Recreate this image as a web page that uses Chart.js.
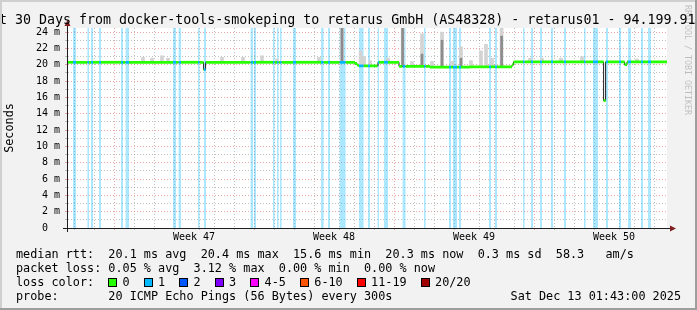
<!DOCTYPE html>
<html>
<head>
<meta charset="utf-8">
<script src="https://cdn.jsdelivr.net/npm/chart.js@4.4.1/dist/chart.umd.min.js"></script>
<style>
    html, body { margin: 0; padding: 0; background: #f2f2f2; }
    canvas { display: block; }
</style>
</head>
<body>
<canvas id="myChart" width="697" height="310"></canvas>
<script>
// x values are days counted from Monday 17 Nov 2025 00:00 (start of week 47)
var X_MIN = -2.85, X_MAX = 27.15, Y_MAX = 24.5;

var weekCenters = [3.5, 10.5, 17.5, 24.5];
var weekLabels = ["Week 47", "Week 48", "Week 49", "Week 50"];
var yTicks = [0, 1, 2, 3, 4, 5, 6, 7, 8, 9, 10, 11, 12, 13, 14, 15, 16, 17, 18, 19, 20, 21, 22, 23, 24];

// periods with 1 lost ping (light blue background bars)
var bandStart = [-2.55, -1.83, -1.65, -1.25, -0.15, 0.08, 2.45, 2.73, 3.70, 4.00, 6.33, 6.50, 7.45, 7.65,
    7.80, 8.45, 9.85, 10.20, 10.78, 11.75, 12.20, 12.68, 13.00, 13.93, 15.00, 16.25, 16.45, 16.75, 18.25,
    18.55, 19.95, 20.35, 20.80, 21.35, 22.00, 23.00, 23.45, 24.10, 24.75, 25.20, 25.85, 26.20];
var bandEnd = [-2.40, -1.75, -1.55, -1.15, -0.05, 0.25, 2.60, 2.85, 3.78, 4.10, 6.45, 6.60, 7.53, 7.73,
    7.88, 8.60, 9.98, 10.30, 11.08, 11.98, 12.30, 12.75, 13.20, 14.08, 15.08, 16.35, 16.65, 16.85, 18.35,
    18.65, 20.03, 20.45, 20.90, 21.45, 22.10, 23.08, 23.70, 24.20, 24.85, 25.35, 25.95, 26.35];

// median rtt (ms), value holds from each x until the next one
var medianX = [-2.85, 3.98, 4.08, 11.55, 11.65, 11.73, 12.70, 13.75, 15.30, 17.30, 19.40, 19.48, 23.98, 24.08, 25.03, 25.15];
var medianY = [20.3, 19.4, 20.3, 20.15, 19.95, 19.85, 20.3, 19.8, 19.7, 19.75, 20.0, 20.35, 15.6, 20.35, 20.0, 20.35];

// smoke: full ping spread (light) and dense part (dark), ms
var smokeX = [0.95, 1.40, 1.90, 2.20, 4.90, 5.95, 6.90, 7.65, 9.75, 10.90, 11.83, 12.00, 12.30, 13.20, 13.93,
    14.40, 14.90, 15.40, 15.90, 16.40, 16.85, 17.35, 17.85, 18.10, 18.40, 18.88, 20.30, 20.90, 21.85, 22.90, 25.65];
var smokeLo = [20.4, 20.4, 20.4, 20.4, 20.4, 20.4, 20.4, 20.4, 20.4, 20.4, 19.9, 19.9, 19.9, 20.4, 19.8,
    19.8, 19.8, 19.8, 19.8, 19.8, 19.8, 19.8, 19.8, 19.8, 19.8, 19.8, 20.4, 20.4, 20.4, 20.4, 20.4];
var smokeHi = [20.9, 20.8, 21.1, 20.8, 20.9, 20.9, 21.1, 20.7, 20.9, 24.5, 21.7, 21.0, 20.5, 20.8, 24.5,
    20.4, 23.8, 20.4, 24.0, 20.4, 22.2, 20.5, 21.7, 22.5, 20.8, 24.5, 20.8, 20.8, 20.8, 21.0, 20.7];
var coreX = [10.90, 13.93, 14.90, 15.90, 16.85, 18.88];
var coreLo = [20.4, 19.8, 19.8, 19.8, 19.8, 19.8];
var coreHi = [24.5, 24.5, 21.3, 23.0, 20.8, 23.5];

var lossLabels = ["0", "1", "2", "3", "4-5", "6-10", "11-19", "20/20"];
var lossColors = ["#26ff00", "#00b8ff", "#0059ff", "#7e00ff", "#ff00ff", "#ff5500", "#ff0000", "#a10000"];

var titleText = "Last 30 Days from docker-tools-smokeping to retarus GmbH (AS48328) - retarus01 - 94.199.91.";
var rttLine = "median rtt:  20.1 ms avg  20.4 ms max  15.6 ms min  20.3 ms now  0.3 ms sd  58.3   am/s";
var lossLine = "packet loss: 0.05 % avg  3.12 % max  0.00 % min  0.00 % now";
var probeLine = "probe:       20 ICMP Echo Pings (56 Bytes) every 300s";
var dateText = "Sat Dec 13 01:43:00 2025";

var MONO = '"DejaVu Sans Mono", monospace';
var GREEN = "#26ff00", BLUE = "#00b8ff";
var GRID_MAJOR = "rgba(222, 79, 79, 0.5)", GRID_MINOR = "rgba(143, 143, 143, 0.55)";
var AXIS = "#1f1f1f", ARROW = "#801f1f";
var NONE = "rgba(0,0,0,0)";
var HALF = 0.17; // half thickness of the median band

// median as steps, split where the loss bars start and stop
function medianAt(x) {
    var v = medianY[0];
    for (var i = 0; i < medianX.length; i++) if (medianX[i] <= x) v = medianY[i];
    return v;
}
function lossAt(x) {
    for (var j = 0; j < bandStart.length; j++) if (x >= bandStart[j] && x < bandEnd[j]) return true;
    return false;
}
var xs = medianX.concat(bandStart, bandEnd, [X_MAX]).sort(function (a, b) { return a - b; });
xs = xs.filter(function (x, i) { return i === 0 || x !== xs[i - 1]; });
var medianPts = xs.map(function (x) { return { x: x, y: medianAt(x) }; });
var medianLoss = xs.map(lossAt);
var upperPts = medianPts.map(function (p) { return { x: p.x, y: p.y + HALF }; });
var lowerPts = medianPts.map(function (p) { return { x: p.x, y: p.y - HALF }; });

var bandPts = [];
bandStart.forEach(function (s, i) {
    bandPts.push({ x: s, y: Y_MAX });
    bandPts.push({ x: bandEnd[i], y: 0 });
});
var smokeBars = smokeX.map(function (x, i) { return { x: x, y: [smokeLo[i], smokeHi[i]] }; });
var coreBars = coreX.map(function (x, i) { return { x: x, y: [coreLo[i], coreHi[i]] }; });

function xGridColor(c) {
    var v = c.tick ? c.tick.value : 0;
    if (Math.abs(v - Math.round(v)) > 1e-6) return NONE;
    return (Math.round(v) % 7 === 0) ? GRID_MAJOR : GRID_MINOR;
}
function yGridColor(c) {
    var v = c.tick ? c.tick.value : 0;
    return (v % 2 === 0) ? GRID_MAJOR : GRID_MINOR;
}

var decorations = {
    id: "decorations",
    beforeDraw: function (chart) {
        var ctx = chart.ctx, a = chart.chartArea;
        ctx.save();
        ctx.fillStyle = "#f2f2f2";
        ctx.fillRect(0, 0, chart.width, chart.height);
        ctx.fillStyle = "#ffffff";
        ctx.fillRect(a.left, a.top, a.right - a.left, a.bottom - a.top);
        ctx.restore();
    },
    afterDraw: function (chart) {
        var ctx = chart.ctx, a = chart.chartArea;
        ctx.save();
        // axis extensions and arrows
        ctx.strokeStyle = AXIS;
        ctx.lineWidth = 1;
        ctx.beginPath();
        ctx.moveTo(a.left + 0.5, a.bottom + 4);
        ctx.lineTo(a.left + 0.5, a.top - 3);
        ctx.moveTo(a.left - 4, a.bottom + 0.5);
        ctx.lineTo(a.right + 4, a.bottom + 0.5);
        ctx.stroke();
        ctx.fillStyle = ARROW;
        ctx.beginPath();
        ctx.moveTo(a.left + 0.5, a.top - 8);
        ctx.lineTo(a.left - 2.5, a.top - 2);
        ctx.lineTo(a.left + 3.5, a.top - 2);
        ctx.closePath();
        ctx.fill();
        ctx.beginPath();
        ctx.moveTo(a.right + 9, a.bottom + 0.5);
        ctx.lineTo(a.right + 3, a.bottom - 2.5);
        ctx.lineTo(a.right + 3, a.bottom + 3.5);
        ctx.closePath();
        ctx.fill();

        // title
        ctx.fillStyle = "#000";
        ctx.font = "13.3px " + MONO;
        ctx.textAlign = "left";
        ctx.textBaseline = "alphabetic";
        ctx.fillText(titleText, -25, 23.5);

        // legend rows
        ctx.font = "11.8px " + MONO;
        ctx.textBaseline = "middle";
        var cw = ctx.measureText("0").width;
        ctx.fillText(rttLine, 16, 255);
        ctx.fillText(lossLine, 16, 269);
        ctx.fillText("loss color:", 16, 282.5);
        var col = 13;
        lossLabels.forEach(function (lab, i) {
            var x = Math.round(16 + col * cw);
            ctx.fillStyle = lossColors[i];
            ctx.fillRect(x, 278, 8, 8);
            ctx.strokeStyle = "#000";
            ctx.strokeRect(x + 0.5, 278.5, 8, 8);
            ctx.fillStyle = "#000";
            ctx.fillText(lab, 16 + (col + 2) * cw, 282.5);
            col += 4 + lab.length;
        });
        ctx.fillText(probeLine, 16, 296.5);
        ctx.textAlign = "right";
        ctx.fillText(dateText, 681, 296.5);

        // rrdtool watermark
        ctx.save();
        ctx.translate(687, 5);
        ctx.rotate(Math.PI / 2);
        ctx.textAlign = "left";
        ctx.font = "8.3px " + MONO;
        ctx.fillStyle = "rgba(0,0,0,0.22)";
        ctx.fillText("RRDTOOL / TOBI OETIKER", 0, 0);
        ctx.restore();

        // 3d frame
        ctx.fillStyle = "#cfcfcf";
        ctx.fillRect(0, 0, chart.width, 2);
        ctx.fillRect(0, 0, 2, chart.height);
        ctx.fillStyle = "#9e9e9e";
        ctx.fillRect(chart.width - 2, 0, 2, chart.height);
        ctx.fillRect(0, chart.height - 2, chart.width, 2);
        ctx.restore();
    }
};

window.onload = function () {
    var ctx = document.getElementById("myChart").getContext("2d");
    var myChart = new Chart(ctx, {
        type: "line",
        data: {
            datasets: [
                {
                    label: "median",
                    data: upperPts,
                    stepped: true,
                    borderWidth: 0,
                    borderColor: NONE,
                    pointRadius: 0,
                    backgroundColor: GREEN,
                    fill: "+1",
                    segment: {
                        backgroundColor: function (c) { return medianLoss[c.p0DataIndex] ? BLUE : GREEN; }
                    },
                    order: 1
                },
                {
                    label: "median low",
                    data: lowerPts,
                    stepped: true,
                    borderWidth: 0,
                    borderColor: NONE,
                    pointRadius: 0,
                    fill: false,
                    order: 1
                },
                {
                    label: "median line",
                    data: medianPts,
                    stepped: true,
                    borderWidth: 1,
                    borderColor: AXIS,
                    pointRadius: 0,
                    fill: false,
                    order: 2
                },
                {
                    type: "bar",
                    label: "smoke core",
                    data: coreBars,
                    backgroundColor: "#8c8c8c",
                    barThickness: 2,
                    grouped: false,
                    order: 3
                },
                {
                    type: "bar",
                    label: "smoke",
                    data: smokeBars,
                    backgroundColor: "#d3d3d3",
                    barThickness: 3,
                    grouped: false,
                    order: 4
                },
                {
                    label: "loss 1",
                    data: bandPts,
                    stepped: true,
                    borderWidth: 0,
                    borderColor: NONE,
                    pointRadius: 0,
                    backgroundColor: "rgba(0, 184, 255, 0.33)",
                    fill: "origin",
                    order: 5
                }
            ]
        },
        options: {
            responsive: false,
            animation: false,
            events: [],
            layout: { padding: { left: 0, right: 30, top: 28, bottom: 0 } },
            plugins: {
                legend: { display: false },
                tooltip: { enabled: false },
                title: { display: false }
            },
            scales: {
                x: {
                    type: "linear",
                    min: X_MIN,
                    max: X_MAX,
                    offset: false,
                    afterBuildTicks: function (scale) {
                        var t = [];
                        for (var d = Math.ceil(X_MIN); d <= Math.floor(X_MAX); d++) t.push({ value: d });
                        weekCenters.forEach(function (c) { t.push({ value: c }); });
                        t.sort(function (p, q) { return p.value - q.value; });
                        scale.ticks = t;
                    },
                    afterFit: function (scale) { scale.height = 82; },
                    grid: { color: xGridColor, tickColor: xGridColor, tickLength: 2 },
                    border: { color: AXIS, width: 1, dash: [1, 2] },
                    ticks: {
                        autoSkip: false,
                        maxRotation: 0,
                        padding: 1,
                        color: "#000",
                        font: { family: MONO, size: 10 },
                        callback: function (v) {
                            var i = weekCenters.indexOf(v);
                            return i >= 0 ? weekLabels[i] : "";
                        }
                    }
                },
                y: {
                    type: "linear",
                    min: 0,
                    max: Y_MAX,
                    afterBuildTicks: function (scale) {
                        scale.ticks = yTicks.map(function (v) { return { value: v }; });
                    },
                    afterFit: function (scale) { scale.width = 67; },
                    grid: { color: yGridColor, tickColor: yGridColor, tickLength: 2 },
                    border: { color: AXIS, width: 1, dash: [1, 2] },
                    ticks: {
                        autoSkip: false,
                        padding: 5,
                        color: "#000",
                        font: { family: MONO, size: 10 },
                        callback: function (v) {
                            if (v % 2 !== 0) return "";
                            return v === 0 ? "0  " : v + " m";
                        }
                    },
                    title: {
                        display: true,
                        text: "Seconds",
                        color: "#000",
                        font: { family: MONO, size: 11.8 },
                        padding: { top: 3, bottom: 0 }
                    }
                }
            }
        },
        plugins: [decorations]
    });
};
</script>
</body>
</html>
